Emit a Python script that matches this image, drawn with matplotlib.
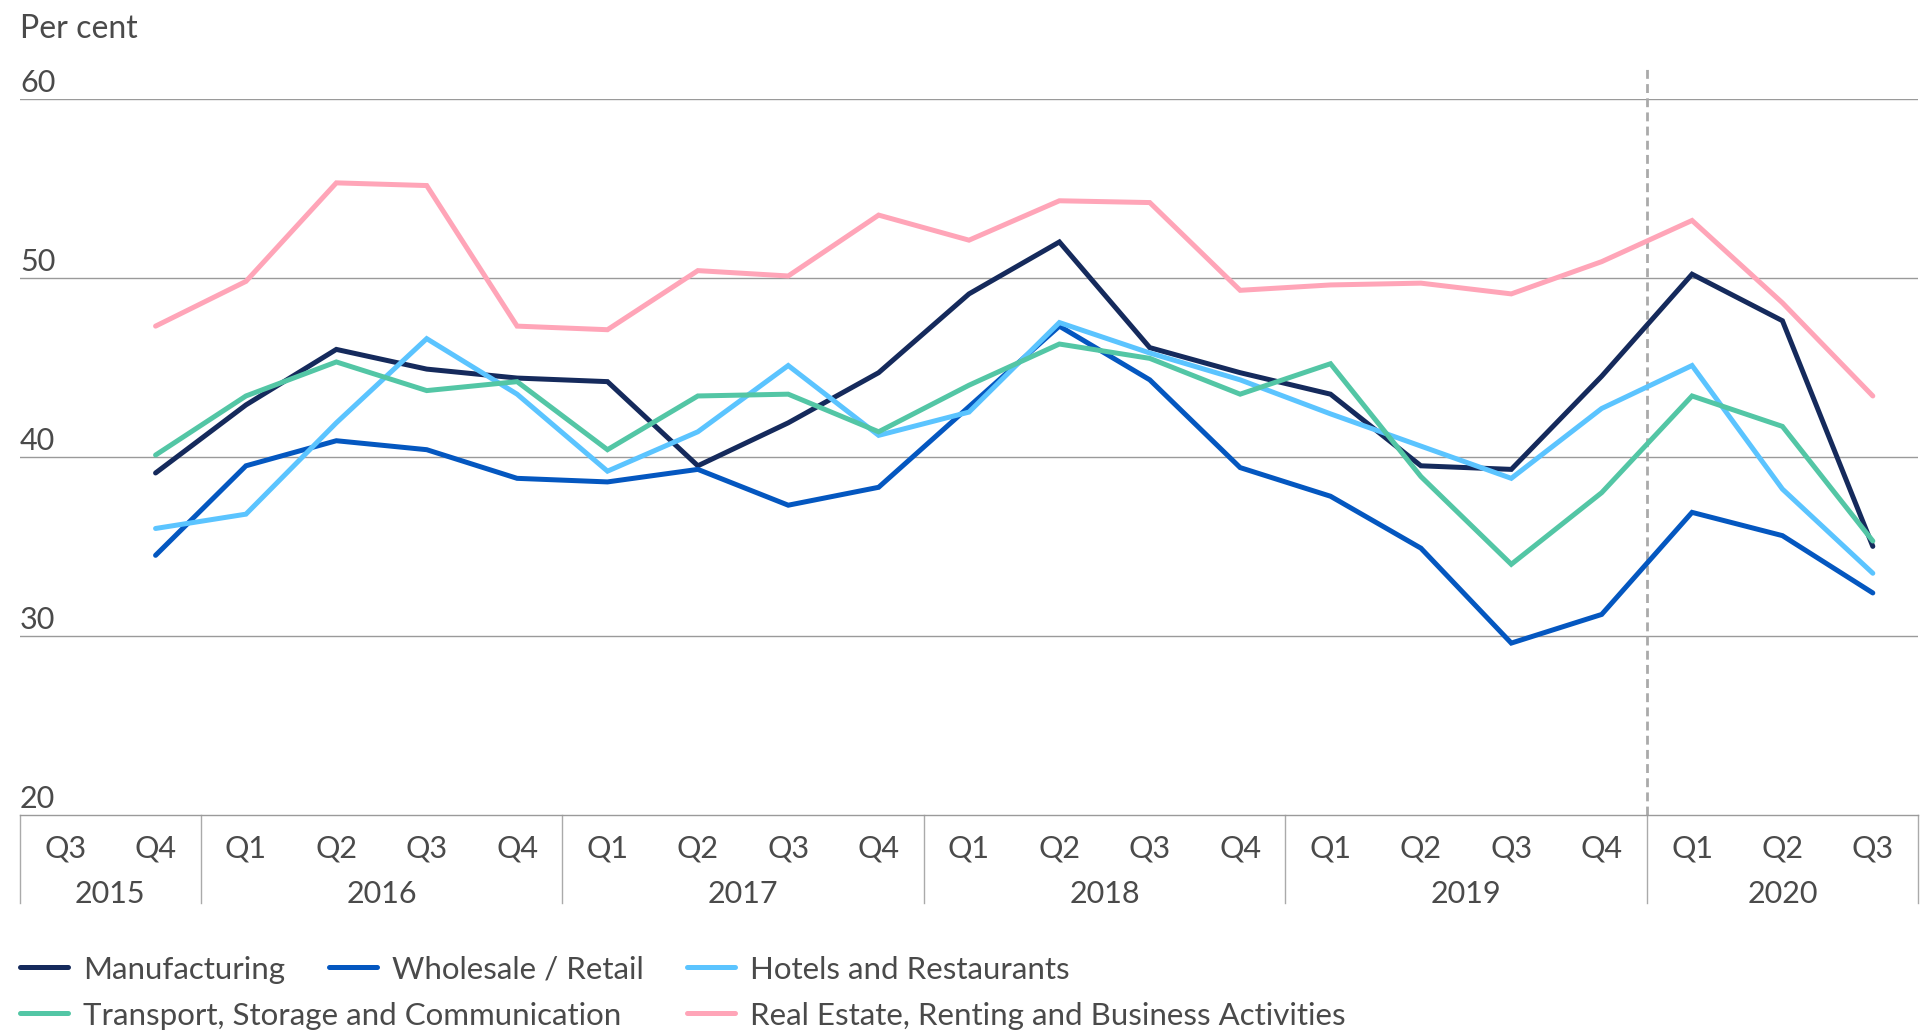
import numpy as np
import matplotlib
matplotlib.use("Agg")
import matplotlib.pyplot as plt
from matplotlib.lines import Line2D
from matplotlib.transforms import blended_transform_factory

# ---------------- data ----------------
quarters = ["Q3", "Q4",
            "Q1", "Q2", "Q3", "Q4",
            "Q1", "Q2", "Q3", "Q4",
            "Q1", "Q2", "Q3", "Q4",
            "Q1", "Q2", "Q3", "Q4",
            "Q1", "Q2", "Q3"]
years = ["2015", "2016", "2017", "2018", "2019", "2020"]
year_counts = [2, 4, 4, 4, 4, 3]

nan = np.nan
manufacturing = [nan, 39.1, 42.9, 46.0, 44.9, 44.4, 44.2, 39.5, 41.9, 44.7, 49.1,
                 52.0, 46.1, 44.7, 43.5, 39.5, 39.3, 44.5, 50.2, 47.6, 35.0]
wholesale = [nan, 34.5, 39.5, 40.9, 40.4, 38.8, 38.6, 39.3, 37.3, 38.3, 42.8,
             47.3, 44.3, 39.4, 37.8, 34.9, 29.6, 31.2, 36.9, 35.6, 32.4]
hotels = [nan, 36.0, 36.8, 41.9, 46.6, 43.5, 39.2, 41.4, 45.1, 41.2, 42.5,
          47.5, 45.8, 44.3, 42.4, 40.6, 38.8, 42.7, 45.1, 38.2, 33.5]
transport = [nan, 40.1, 43.4, 45.3, 43.7, 44.2, 40.4, 43.4, 43.5, 41.4, 44.0,
             46.3, 45.5, 43.5, 45.2, 38.9, 34.0, 38.0, 43.4, 41.7, 35.3]
real_estate = [nan, 47.3, 49.8, 55.3, 55.15, 47.3, 47.1, 50.4, 50.1, 53.5, 52.1,
               54.3, 54.2, 49.3, 49.6, 49.7, 49.1, 50.9, 53.2, 48.6, 43.4]

series_names = ["Manufacturing", "Wholesale / Retail", "Hotels and Restaurants",
                "Transport, Storage and Communication",
                "Real Estate, Renting and Business Activities"]
series_values = [manufacturing, wholesale, hotels, transport, real_estate]
colors = ["#152a5c", "#0457c0", "#5bc4ff", "#53c6a5", "#ffa5b8"]

y_ticks = [20, 30, 40, 50, 60]
marker_line_x = 17.5  # between Q4 2019 and Q1 2020

# ---------------- figure ----------------
plt.rcParams["font.family"] = ["Lato", "DejaVu Sans"]
TXT = "#4a4a4a"
GRID = "#9a9a9a"

W, H = 1931, 1033
fig = plt.figure(figsize=(W / 100, H / 100), dpi=100)
ax_left, ax_right = 20 / W, 1918 / W
ax_bottom, ax_top = 1 - 815 / H, 1 - 98.7 / H
ax = fig.add_axes([ax_left, ax_bottom, ax_right - ax_left, ax_top - ax_bottom])

x = np.arange(len(quarters))
ax.set_xlim(-0.5, len(quarters) - 0.5)
ax.set_ylim(20, 60)

for val in y_ticks[1:]:
    ax.axhline(val, color=GRID, lw=1.0, zorder=1)
for s in ["top", "left", "right"]:
    ax.spines[s].set_visible(False)
ax.spines["bottom"].set_color(GRID)
ax.spines["bottom"].set_linewidth(1.0)
ax.set_xticks([])
ax.set_yticks([])

for vals, col in zip(series_values, colors):
    ax.plot(x, vals, color=col, lw=3.6, solid_capstyle="round",
            solid_joinstyle="miter", zorder=3)

# dashed vertical marker
ax.plot([marker_line_x, marker_line_x], [20, 61.7], color="#aaaaaa", lw=2.0,
        linestyle=(0, (3.2, 1.9)), clip_on=False, zorder=2)

# y labels above gridlines
for val in y_ticks:
    ax.annotate(str(val), xy=(0, val), xycoords=("axes fraction", "data"),
                xytext=(0, 5), textcoords="offset points",
                ha="left", va="baseline", fontsize=22, color=TXT)

fig.text(20 / W, 1 - 38 / H, "Per cent", ha="left", va="baseline",
         fontsize=23, color=TXT)

# category axis
tr = blended_transform_factory(ax.transData, fig.transFigure)
for i, q in enumerate(quarters):
    ax.text(i, 1 - 849 / H, q, transform=tr, ha="center", va="center",
            fontsize=22, color=TXT)
start = 0
bounds = [-0.5]
for yr, n in zip(years, year_counts):
    centre = start + (n - 1) / 2
    ax.text(centre, 1 - 894 / H, yr, transform=tr, ha="center", va="center",
            fontsize=22, color=TXT)
    start += n
    bounds.append(start - 0.5)
for b in bounds:
    ax.add_line(Line2D([b, b], [1 - 815 / H, 1 - 903 / H], transform=tr,
                       color="#aaaaaa", lw=1.0, clip_on=False))

# legend (manual grid)
legend_pos = [(20, 967, 979), (329, 967, 979), (687, 967, 979),
              (20, 1013, 1025), (687, 1013, 1025)]
for name, col, (lx, ly, tb) in zip(series_names, colors, legend_pos):
    fig.add_artist(Line2D([lx / W, (lx + 48) / W], [1 - ly / H, 1 - ly / H],
                          transform=fig.transFigure, color=col, lw=3.6,
                          solid_capstyle="round"))
    fig.text((lx + 63) / W, 1 - tb / H, name, ha="left", va="baseline",
             fontsize=22.5, color=TXT)

fig.savefig("out.png", dpi=100, facecolor="white")
